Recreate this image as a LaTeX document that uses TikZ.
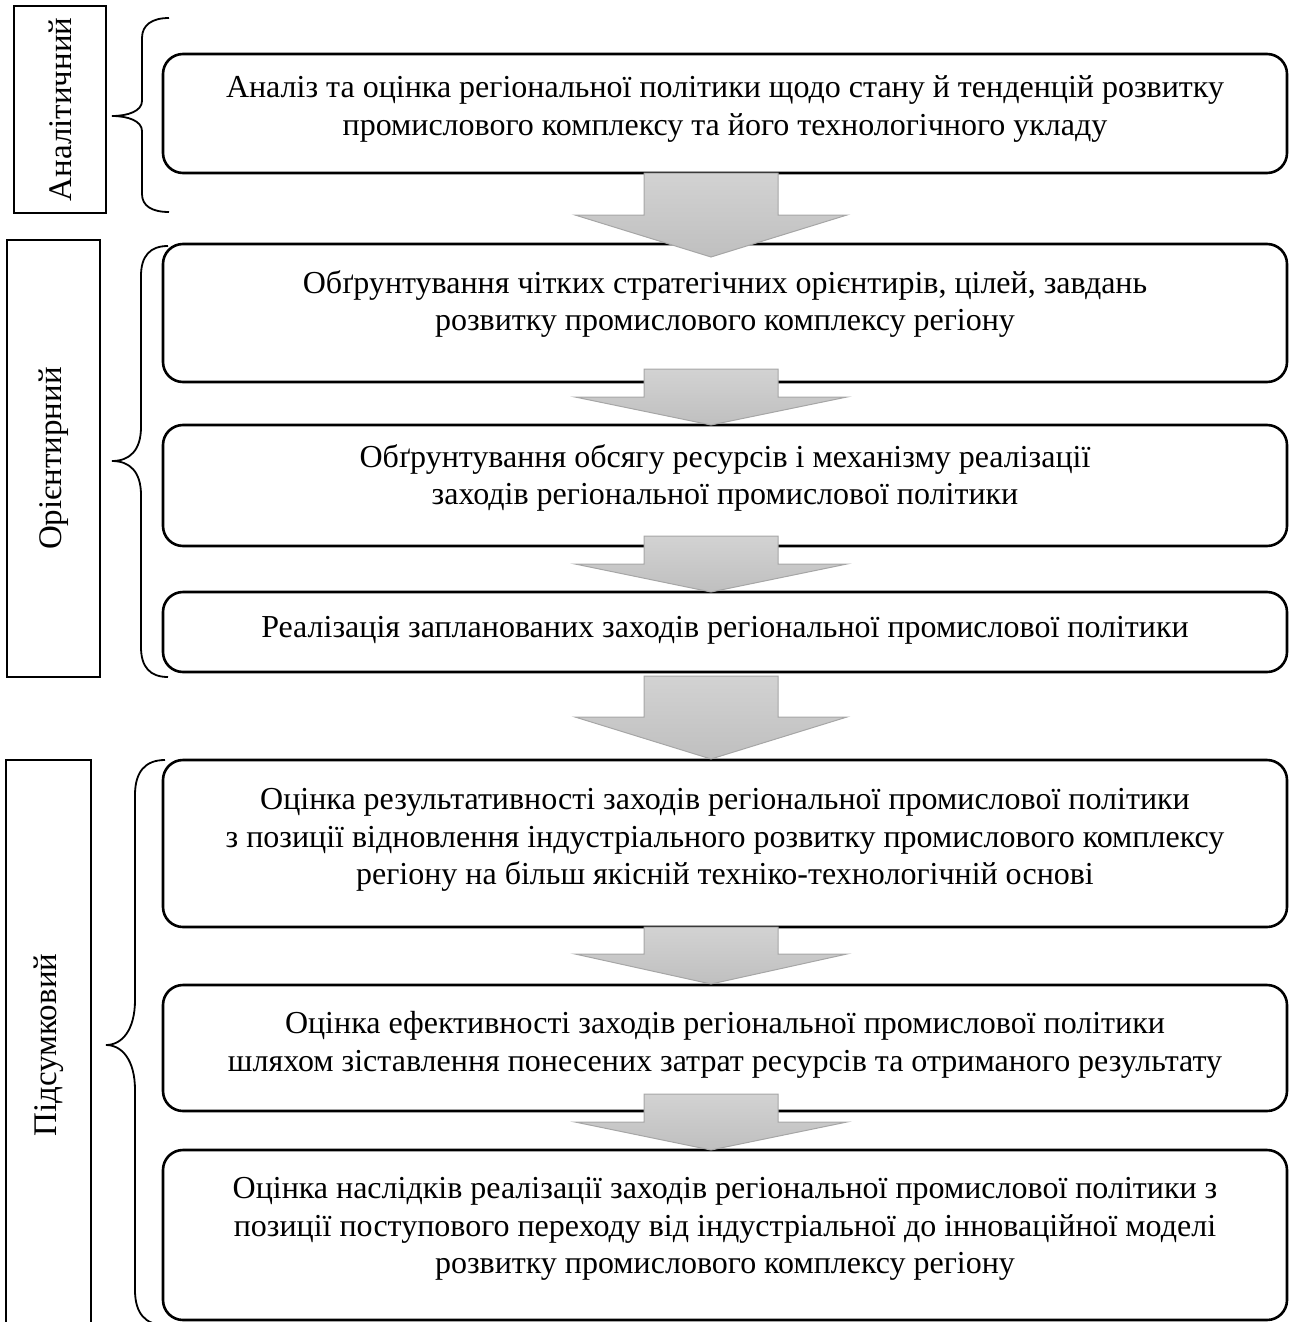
\documentclass[tikz,border=0pt]{standalone}
\usepackage{fontspec}
\setmainfont{Liberation Serif}
\begin{document}
\begin{tikzpicture}[x=0.5pt,y=-0.5pt,
  box/.style={draw, line width=1.3pt, rounded corners=10pt, minimum width=562pt, inner sep=0pt},
  txt/.style={align=center, font=\fontsize{16}{18.9}\selectfont, inner sep=0pt},
  lab/.style={draw, line width=0.8pt, inner sep=0pt},
  labtxt/.style={rotate=90, font=\fontsize{16.5}{18}\selectfont, inner sep=0pt},
  brace/.style={line width=0.9pt},
  arrowfill/.style={top color=gray!35, bottom color=gray!50, draw=gray!70, line width=0.5pt}]
\useasboundingbox (0,0) rectangle (1290,1322);
\clip (0,0) rectangle (1290,1322);
\newcommand{\blkarrow}[3]{%
  \shade[arrowfill] (644,#1) -- (778,#1) -- (778,#2) -- (847,#2) -- (711,#3) -- (575,#2) -- (644,#2) -- cycle;}

% label boxes
\node[lab, minimum width=46pt, minimum height=103.5pt] (l1) at (60,109.5) {};
\node[labtxt] (lt1) at (l1.center) {Аналітичний};
\node[lab, minimum width=46.5pt, minimum height=218.5pt] (l2) at (53.5,458.5) {};
\node[labtxt] (lt2) at (l2.center) {Орієнтирний};
\node[lab, minimum width=42.5pt, minimum height=290pt] (l3) at (48.5,1050) {};
\node[labtxt] (lt3) at (48.5,1045) {Підсумковий};

% braces
\draw[brace] (169,18) .. controls (152,18) and (142,25) .. (142,38) -- (142,101)
  .. controls (142,111) and (128,116) .. (112,116)
  .. controls (128,116) and (142,121) .. (142,131) -- (142,194)
  .. controls (142,206) and (152,212) .. (169,212);
\draw[brace] (168,246) .. controls (150,246) and (141,256) .. (141,276) -- (141,427)
  .. controls (141,450) and (130,461) .. (112,461)
  .. controls (130,461) and (141,472) .. (141,495) -- (141,647)
  .. controls (141,667) and (150,677) .. (168,677);
\draw[brace] (165,760) .. controls (145,760) and (135,772) .. (135,795) -- (135,1000)
  .. controls (135,1030) and (122,1045) .. (106,1045)
  .. controls (122,1045) and (135,1060) .. (135,1090) -- (135,1290)
  .. controls (135,1313) and (145,1325) .. (165,1325);

% boxes
\node[box, minimum height=59.5pt] (b1) at (725,113.5) {};
\node[box, minimum height=69pt]   (b2) at (725,313) {};
\node[box, minimum height=60.5pt] (b3) at (725,485.5) {};
\node[box, minimum height=40pt]   (b4) at (725,632) {};
\node[box, minimum height=83.5pt] (b5) at (725,843.5) {};
\node[box, minimum height=63pt]   (b6) at (725,1048) {};
\node[box, minimum height=85pt]   (b7) at (725,1235) {};

% texts
\node[txt] (t1) at (725,109) {Аналіз та оцінка регіональної політики щодо стану й тенденцій розвитку\\промислового комплексу та його технологічного укладу};
\node[txt] (t2) at (725,304) {Обґрунтування чітких стратегічних орієнтирів, цілей, завдань\\розвитку промислового комплексу регіону};
\node[txt] (t3) at (725,478) {Обґрунтування обсягу ресурсів і механізму реалізації\\заходів регіональної промислової політики};
\node[txt] (t4) at (725,630) {Реалізація запланованих заходів регіональної промислової політики};
\node[txt] (t5) at (725,840) {Оцінка результативності заходів регіональної промислової політики\\з позиції відновлення індустріального розвитку промислового комплексу\\регіону на більш якісній техніко-технологічній основі};
\node[txt] (t6) at (725,1045) {Оцінка ефективності заходів регіональної промислової політики\\шляхом зіставлення понесених затрат ресурсів та отриманого результату};
\node[txt] (t7) at (725,1229) {Оцінка наслідків реалізації заходів регіональної промислової політики з\\позиції поступового переходу від індустріальної до інноваційної моделі\\розвитку промислового комплексу регіону};

% block arrows
\blkarrow{173}{215}{257}
\blkarrow{369}{397}{425}
\blkarrow{536}{564}{592}
\blkarrow{676}{717}{759}
\blkarrow{927}{954}{984}
\blkarrow{1094}{1122}{1150}
\end{tikzpicture}
\end{document}
